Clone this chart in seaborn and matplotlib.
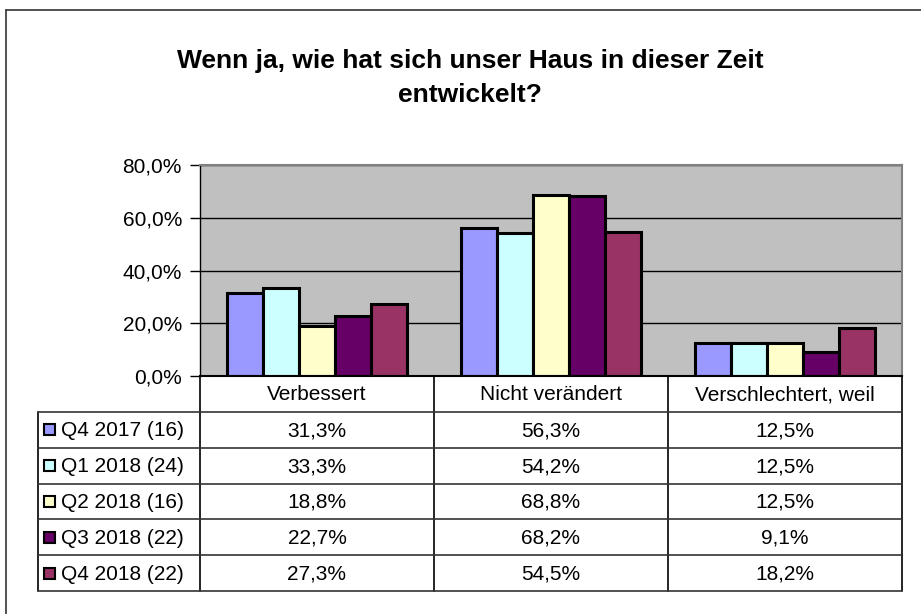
import numpy as np
import pandas as pd
import matplotlib
matplotlib.use("Agg")
import matplotlib.pyplot as plt
import seaborn as sns
from matplotlib.lines import Line2D
from matplotlib.patches import Rectangle

# data
categories = ["Verbessert", "Nicht verändert", "Verschlechtert, weil"]
series = ["Q4 2017 (16)", "Q1 2018 (24)", "Q2 2018 (16)", "Q3 2018 (22)", "Q4 2018 (22)"]
q4_2017 = [31.3, 56.3, 12.5]
q1_2018 = [33.3, 54.2, 12.5]
q2_2018 = [18.8, 68.8, 12.5]
q3_2018 = [22.7, 68.2, 9.1]
q4_2018 = [27.3, 54.5, 18.2]
yticks = [0, 20, 40, 60, 80]
colors = ["#9999FF", "#CCFFFF", "#FFFFCC", "#660066", "#993366"]

values = [q4_2017, q1_2018, q2_2018, q3_2018, q4_2018]
rows = []
for s, vals in zip(series, values):
    for c, v in zip(categories, vals):
        rows.append({"cat": c, "series": s, "val": v})
df = pd.DataFrame(rows)

def fmt(v):
    return f"{v:.1f}%".replace(".", ",")

sns.set_theme(style="white")
plt.rcParams["font.family"] = ["Liberation Sans", "DejaVu Sans"]
plt.rcParams["text.color"] = "black"
plt.rcParams["ytick.color"] = "black"
plt.rcParams["xtick.color"] = "black"
plt.rcParams["ytick.labelcolor"] = "black"

W, H = 921, 614
fig = plt.figure(figsize=(W / 100, H / 100), dpi=100)

# outer frame (left and top visible)
fig.add_artist(Line2D([6 / W, 6 / W], [0, 1 - 10 / H], color="#333333", lw=1.2, transform=fig.transFigure))
fig.add_artist(Line2D([6 / W, 1], [1 - 10 / H, 1 - 10 / H], color="#333333", lw=1.2, transform=fig.transFigure))

fig.text(470 / W, 1 - 78 / H, "Wenn ja, wie hat sich unser Haus in dieser Zeit\nentwickelt?",
         ha="center", va="center", fontsize=19, fontweight="bold", linespacing=1.5)

# bar chart
ax = fig.add_axes([200 / W, 1 - 376 / H, 702 / W, 211 / H])
sns.barplot(data=df, x="cat", y="val", hue="series", order=categories, hue_order=series,
            palette=colors, width=0.77, saturation=1, edgecolor="black", linewidth=2.2,
            legend=False, ax=ax)
ax.set_facecolor("#C0C0C0")
ax.set_xlim(-0.5, 2.5)
ax.set_ylim(0, 80)
ax.set_yticks(yticks)
ax.set_yticklabels([fmt(t) for t in yticks], fontsize=15, color="black")
ax.yaxis.grid(True, color="black", lw=1)
ax.set_axisbelow(True)
ax.set_xticks([])
ax.set_xlabel("")
ax.set_ylabel("")
ax.tick_params(axis="y", left=True, length=7, width=1, color="black", pad=6)
for side in ["top", "right"]:
    ax.spines[side].set_color("#808080")
    ax.spines[side].set_linewidth(1.5)
ax.spines["left"].set_color("black")
ax.spines["bottom"].set_color("black")
ax.spines["left"].set_linewidth(1)
ax.spines["bottom"].set_linewidth(1.5)

# data table below the chart
tx0, tx1, ty0, ty1 = 38, 902, 376, 591
tax = fig.add_axes([tx0 / W, 1 - ty1 / H, (tx1 - tx0) / W, (ty1 - ty0) / H])
tax.set_xlim(tx0, tx1)
tax.set_ylim(ty1, ty0)
tax.axis("off")

col_edges = [200, 434, 668, 902]
header_bottom = 412
row_h = (ty1 - header_bottom) / len(series)
row_edges = [header_bottom + i * row_h for i in range(len(series) + 1)]

for x in col_edges:
    tax.plot([x, x], [ty0, ty1], color="black", lw=1.2, clip_on=False)
tax.plot([tx0, tx0], [header_bottom, ty1], color="black", lw=1.2, clip_on=False)
for y in row_edges:
    tax.plot([tx0, tx1], [y, y], color="#333333", lw=1.2, clip_on=False)

for j, c in enumerate(categories):
    cx = (col_edges[j] + col_edges[j + 1]) / 2
    tax.text(cx, (ty0 + header_bottom) / 2 + 1, c, ha="center", va="center", fontsize=15)

for i, (s, vals) in enumerate(zip(series, values)):
    cy = (row_edges[i] + row_edges[i + 1]) / 2
    tax.add_patch(Rectangle((44, cy - 5.5), 11, 11, facecolor=colors[i], edgecolor="black", lw=1.5))
    tax.text(61, cy + 1, s, ha="left", va="center", fontsize=15)
    for j, v in enumerate(vals):
        cx = (col_edges[j] + col_edges[j + 1]) / 2
        tax.text(cx, cy + 1, fmt(v), ha="center", va="center", fontsize=15)

fig.savefig("out.png", dpi=100, facecolor="white")
